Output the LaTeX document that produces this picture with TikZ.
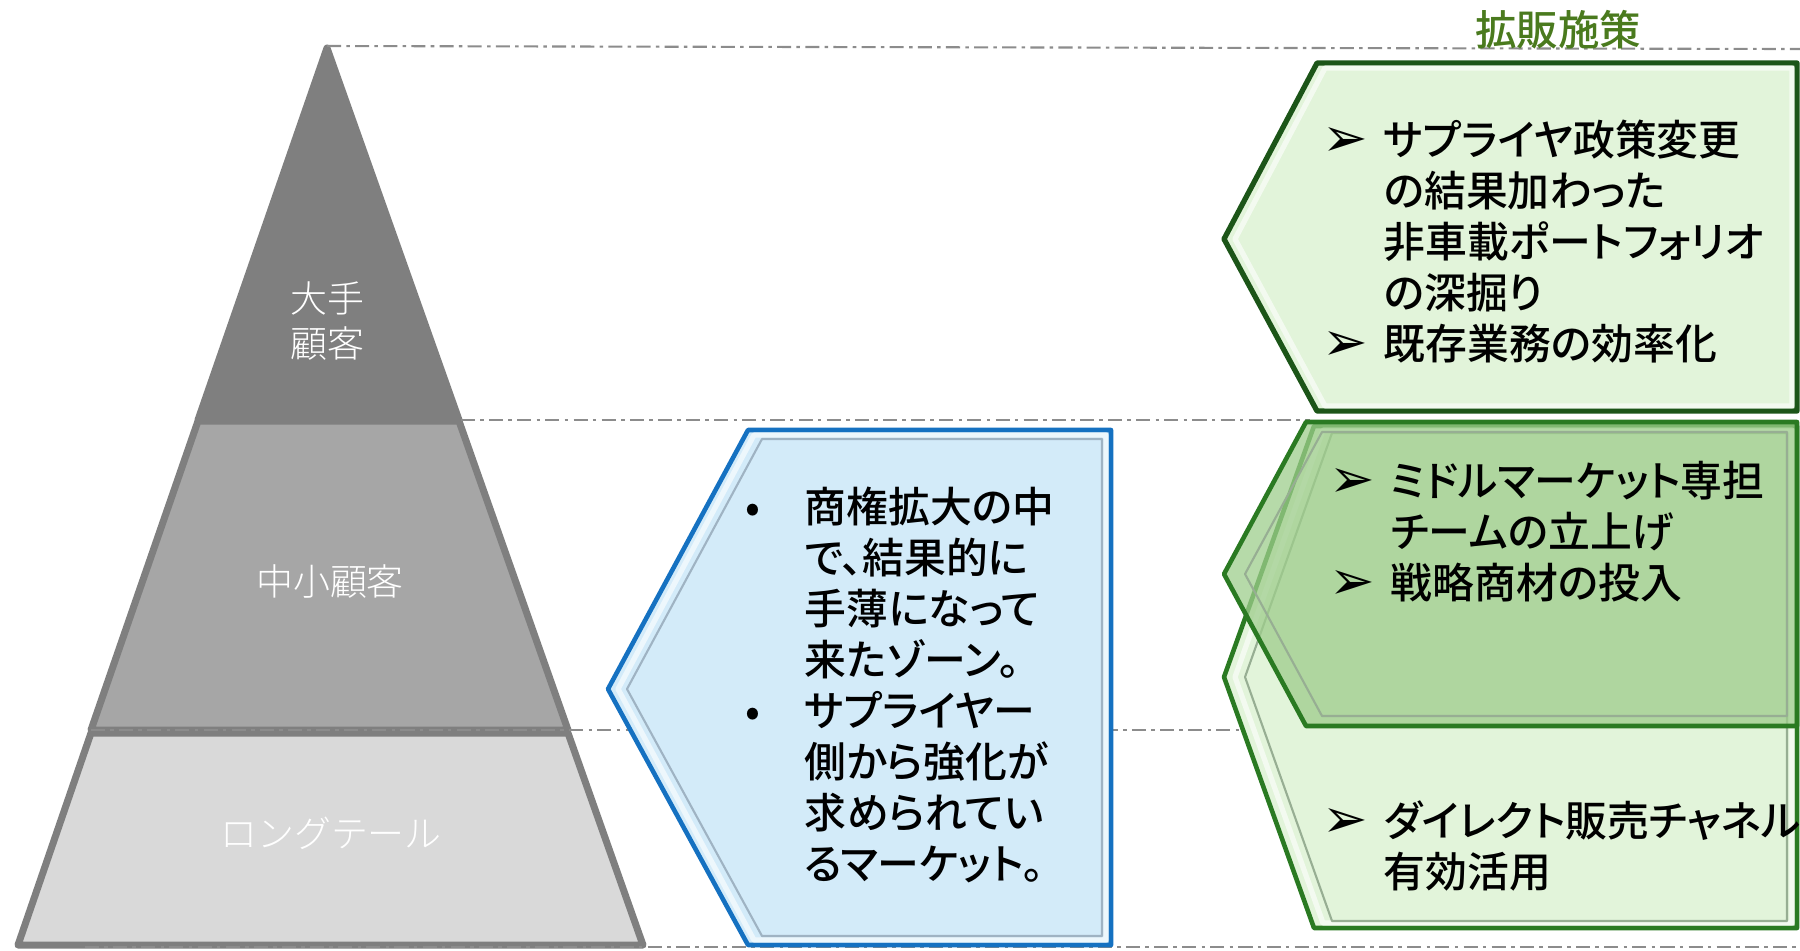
\documentclass[tikz,border=0pt]{standalone}
\usepackage{fontspec}
\setmainfont{Noto Sans CJK JP Medium}[RawFeature=+palt]
\newfontfamily\dvfont{DejaVu Sans}
\newfontfamily\jplight{Noto Sans CJK JP Light}
\newfontfamily\jptitle{Noto Sans CJK JP Medium}
\definecolor{pyrdark}{HTML}{7F7F7F}
\definecolor{pyrmid}{HTML}{A6A6A6}
\definecolor{pyrlow}{HTML}{D9D9D9}
\definecolor{blfill}{HTML}{D3EBF9}
\definecolor{blline}{HTML}{1571C1}
\definecolor{blinner}{HTML}{9FB3C3}
\definecolor{gfill}{HTML}{E2F4DA}
\definecolor{gfilltwo}{HTML}{9ECD8C}
\definecolor{gdark}{HTML}{1C5518}
\definecolor{gmid}{HTML}{2A7A22}
\definecolor{ginner}{HTML}{97AE93}
\definecolor{titlegreen}{HTML}{4A7A1E}
\definecolor{dashgray}{HTML}{8C8C8C}
\newcommand{\arrowb}{\makebox[17.4pt][l]{\raisebox{-0.5pt}{\scalebox{1.3}{\dvfont ➢}}}}
\newcommand{\dotb}{\makebox[16.8pt][l]{•}}
\begin{document}
\begin{tikzpicture}[x=0.01cm,y=-0.01cm,line join=round,
  guide/.style={draw=dashgray,line width=0.6pt,dash pattern=on 4pt off 1.5pt on 1pt off 1.5pt},
  band/.style={draw=pyrdark,line width=2pt},
  plabel/.style={text=white,font=\jplight\fontsize{10.5}{13}\selectfont,align=center,inner sep=0pt},
  body/.style={font=\fontsize{11.9}{14.5}\selectfont,inner sep=0pt,anchor=base west,text=black},
  glow/.style={draw=white,line width=1.5pt,opacity=0.6},
]
\useasboundingbox (0,0) rectangle (1800,950);

% pyramid
\draw[band,fill=pyrlow] (91,733) -- (568,733) -- (643,945) -- (18,945) -- cycle;
\draw[band,fill=pyrmid] (198,421) -- (459,421) -- (568,730) -- (91,730) -- cycle;
\draw[band,fill=pyrdark] (327,48) -- (459,420) -- (198,420) -- cycle;

\node[plabel] (large) at (327,321) {大手\\顧客};
\node[plabel] (middle) at (330,581) {中小顧客};
\node[plabel] (tail) at (331,833) {ロングテール};

% guide lines
\coordinate (g1a) at (327,46);  \coordinate (g1b) at (1800,49);
\coordinate (g2a) at (461,420); \coordinate (g2b) at (1310,420);
\coordinate (g3a) at (91,730);  \coordinate (g3b) at (1300,730);
\coordinate (g4a) at (85,947);  \coordinate (g4b) at (1800,947);
\draw[guide] (g1a) -- (g1b);
\draw[guide] (g2a) -- (g2b);
\draw[guide] (g3a) -- (g3b);
\draw[guide] (g4a) -- (g4b);

% blue shape
\draw[blline,line width=1.3pt,fill=blfill] (608,689) -- (748,430) -- (1111,430) -- (1111,945) -- (748,945) -- cycle;
\draw[glow] (618,689) -- (754,435) -- (1106,435) -- (1106,940) -- (754,940) -- cycle;
\draw[blinner,line width=0.6pt] (627,689) -- (762,439) -- (1102,439) -- (1102,936) -- (762,936) -- cycle;
\node[body] (bluetext) at (745,522) {\begin{tabular}[t]{@{}l@{}l@{}}
\dotb & 商権拡大の中\\
 & で、結果的に\\
 & 手薄になって\\
 & 来たゾーン。\\
\dotb & サプライヤー\\
 & 側から強化が\\
 & 求められてい\\
 & るマーケット。
\end{tabular}};

% green shape 3 (back)
\draw[gmid,line width=1.3pt,fill=gfill] (1224,677) -- (1314,426) -- (1797,426) -- (1797,928) -- (1314,928) -- cycle;
\draw[glow] (1235,677) -- (1323,430) -- (1792,430) -- (1792,923) -- (1323,923) -- cycle;
\draw[ginner,line width=0.6pt] (1245,677) -- (1332,433) -- (1787,433) -- (1787,921) -- (1332,921) -- cycle;

% green shape 2 (semi-transparent)
\draw[gmid,line width=1.3pt,fill=gfilltwo,fill opacity=0.75] (1224,574) -- (1306,422) -- (1797,422) -- (1797,726) -- (1306,726) -- cycle;
\draw[ginner,line width=0.6pt] (1245,574) -- (1322,432) -- (1787,432) -- (1787,716) -- (1322,716) -- cycle;

% green shape 1
\draw[gdark,line width=1.5pt,fill=gfill] (1224,239) -- (1317,63) -- (1797,63) -- (1797,411) -- (1317,411) -- cycle;
\draw[glow] (1235,239) -- (1325,68) -- (1792,68) -- (1792,406) -- (1325,406) -- cycle;

\node[text=titlegreen,font=\jptitle\fontsize{11.8}{14}\selectfont,inner sep=0pt] (title) at (1558,30) {拡販施策};

\node[body] (greenone) at (1322,155) {\begin{tabular}[t]{@{}l@{}l@{}}
\arrowb & サプライヤ政策変更\\
 & の結果加わった\\
 & 非車載ポートフォリオ\\
 & の深掘り\\
\arrowb & 既存業務の効率化
\end{tabular}};

\node[body] (greentwo) at (1329,496) {\begin{tabular}[t]{@{}l@{}l@{}}
\arrowb & ミドルマーケット専担\\
 & チームの立上げ\\
\arrowb & 戦略商材の投入
\end{tabular}};

\node[body] (greenthree) at (1322,836) {\begin{tabular}[t]{@{}l@{}l@{}}
\arrowb & ダイレクト販売チャネル\\
 & 有効活用
\end{tabular}};
\end{tikzpicture}
\end{document}
